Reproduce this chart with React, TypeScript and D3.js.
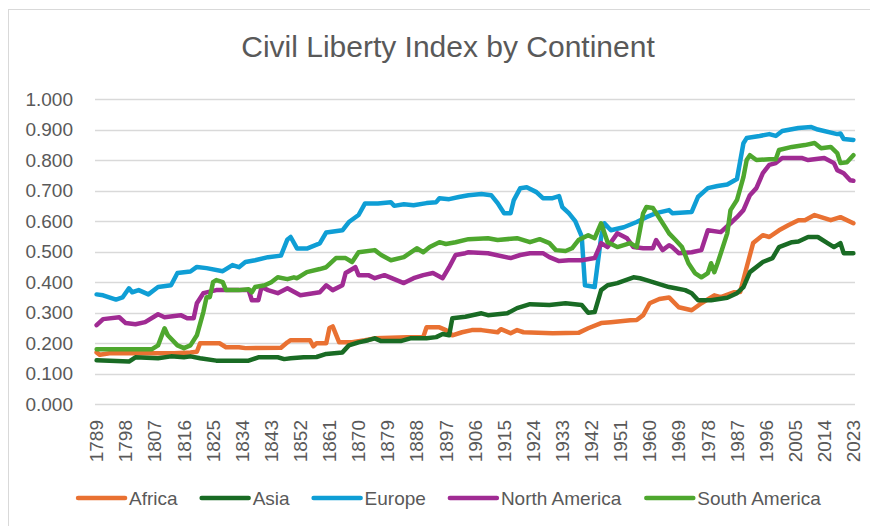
import React, { useMemo } from "react";
import * as d3 from "d3";

// values, [year, index]
const africa: [number, number][] = [
  [1789, 0.17], [1790, 0.162], [1793, 0.167], [1802, 0.167], [1813, 0.167], [1818, 0.17], [1820, 0.172],
  [1821, 0.2], [1827, 0.2], [1829, 0.187], [1833, 0.187], [1835, 0.184], [1846, 0.185], [1848, 0.203],
  [1849, 0.21], [1855, 0.21], [1856, 0.19], [1857, 0.2], [1860, 0.2], [1861, 0.25], [1862, 0.255],
  [1864, 0.203], [1868, 0.203], [1872, 0.21], [1875, 0.216], [1885, 0.22], [1890, 0.22], [1891, 0.252],
  [1895, 0.252], [1897, 0.243], [1899, 0.226], [1902, 0.236], [1905, 0.243], [1908, 0.243], [1913, 0.236],
  [1914, 0.246], [1917, 0.233], [1919, 0.243], [1921, 0.236], [1930, 0.233], [1938, 0.234], [1941, 0.249],
  [1945, 0.266], [1948, 0.269], [1954, 0.275], [1956, 0.276], [1958, 0.292], [1960, 0.331], [1963, 0.345],
  [1966, 0.35], [1969, 0.318], [1973, 0.308], [1976, 0.331], [1980, 0.357], [1982, 0.351], [1986, 0.367],
  [1988, 0.368], [1990, 0.449], [1992, 0.528], [1995, 0.554], [1997, 0.548], [2000, 0.57], [2003, 0.587],
  [2006, 0.603], [2008, 0.603], [2011, 0.62], [2013, 0.613], [2016, 0.603], [2019, 0.613], [2023, 0.593],
];

const asia: [number, number][] = [
  [1789, 0.144], [1799, 0.14], [1801, 0.154], [1808, 0.151], [1812, 0.157], [1816, 0.154], [1818, 0.157],
  [1821, 0.151], [1826, 0.143], [1836, 0.143], [1839, 0.154], [1845, 0.154], [1847, 0.148], [1849, 0.151],
  [1853, 0.154], [1857, 0.155], [1860, 0.165], [1865, 0.17], [1867, 0.193], [1870, 0.203], [1873, 0.21],
  [1875, 0.216], [1877, 0.207], [1883, 0.207], [1886, 0.216], [1891, 0.216], [1894, 0.22], [1896, 0.23],
  [1898, 0.226], [1899, 0.282], [1903, 0.287], [1908, 0.298], [1910, 0.292], [1916, 0.298], [1919, 0.315],
  [1923, 0.328], [1929, 0.325], [1934, 0.331], [1939, 0.325], [1941, 0.3], [1943, 0.302], [1945, 0.374],
  [1947, 0.39], [1950, 0.397], [1955, 0.416], [1957, 0.413], [1959, 0.407], [1962, 0.397], [1966, 0.384],
  [1968, 0.38], [1971, 0.374], [1973, 0.364], [1975, 0.341], [1979, 0.341], [1984, 0.349], [1987, 0.364],
  [1989, 0.384], [1991, 0.433], [1995, 0.466], [1998, 0.479], [2000, 0.515], [2004, 0.531], [2006, 0.533],
  [2009, 0.548], [2012, 0.548], [2015, 0.528], [2017, 0.515], [2019, 0.528], [2020, 0.495], [2023, 0.495],
];

const europe: [number, number][] = [
  [1789, 0.36], [1791, 0.357], [1795, 0.343], [1797, 0.35], [1799, 0.38], [1800, 0.367], [1802, 0.374],
  [1805, 0.36], [1808, 0.384], [1812, 0.39], [1814, 0.43], [1818, 0.435], [1820, 0.45], [1823, 0.446],
  [1828, 0.436], [1831, 0.456], [1833, 0.449], [1835, 0.466], [1838, 0.472], [1842, 0.482], [1846, 0.487],
  [1848, 0.54], [1849, 0.548], [1851, 0.51], [1854, 0.51], [1858, 0.527], [1860, 0.563], [1865, 0.57],
  [1867, 0.597], [1870, 0.62], [1872, 0.658], [1876, 0.658], [1880, 0.662], [1881, 0.65], [1884, 0.655],
  [1887, 0.652], [1891, 0.659], [1894, 0.662], [1895, 0.675], [1898, 0.672], [1901, 0.679], [1904, 0.685],
  [1908, 0.689], [1911, 0.685], [1913, 0.659], [1915, 0.626], [1917, 0.626], [1918, 0.669], [1920, 0.708],
  [1922, 0.711], [1925, 0.695], [1927, 0.675], [1930, 0.675], [1932, 0.682], [1933, 0.646], [1935, 0.626],
  [1937, 0.6], [1939, 0.55], [1940, 0.39], [1943, 0.384], [1945, 0.548], [1946, 0.593], [1948, 0.57],
  [1952, 0.58], [1956, 0.597], [1959, 0.613], [1962, 0.626], [1966, 0.636], [1967, 0.626], [1973, 0.63],
  [1975, 0.68], [1978, 0.708], [1981, 0.715], [1984, 0.72], [1987, 0.738], [1989, 0.855], [1990, 0.872],
  [1994, 0.879], [1997, 0.885], [1999, 0.879], [2001, 0.895], [2006, 0.905], [2010, 0.908], [2012, 0.9],
  [2018, 0.885], [2019, 0.887], [2020, 0.869], [2023, 0.866],
];

const northAmerica: [number, number][] = [
  [1789, 0.259], [1791, 0.279], [1796, 0.285], [1798, 0.266], [1801, 0.262], [1804, 0.269], [1808, 0.295],
  [1810, 0.285], [1815, 0.292], [1817, 0.282], [1819, 0.282], [1820, 0.331], [1822, 0.364], [1826, 0.374],
  [1836, 0.374], [1837, 0.341], [1839, 0.341], [1840, 0.384], [1842, 0.374], [1845, 0.364], [1848, 0.38],
  [1852, 0.357], [1858, 0.367], [1860, 0.39], [1862, 0.374], [1865, 0.39], [1866, 0.43], [1869, 0.449],
  [1870, 0.423], [1873, 0.423], [1875, 0.413], [1878, 0.423], [1884, 0.397], [1887, 0.413], [1890, 0.423],
  [1893, 0.43], [1896, 0.413], [1898, 0.449], [1900, 0.489], [1903, 0.495], [1904, 0.498], [1910, 0.495],
  [1917, 0.479], [1920, 0.489], [1923, 0.495], [1927, 0.495], [1929, 0.482], [1932, 0.469], [1935, 0.472],
  [1939, 0.472], [1943, 0.479], [1945, 0.528], [1947, 0.515], [1950, 0.56], [1953, 0.544], [1955, 0.515],
  [1958, 0.511], [1961, 0.511], [1962, 0.538], [1964, 0.505], [1966, 0.521], [1967, 0.515], [1969, 0.495],
  [1973, 0.498], [1976, 0.505], [1978, 0.57], [1982, 0.564], [1985, 0.593], [1987, 0.613], [1989, 0.636],
  [1991, 0.685], [1993, 0.708], [1995, 0.757], [1997, 0.784], [1999, 0.79], [2001, 0.807], [2007, 0.807],
  [2009, 0.8], [2014, 0.807], [2017, 0.79], [2018, 0.767], [2020, 0.757], [2022, 0.734], [2023, 0.732],
];

const southAmerica: [number, number][] = [
  [1789, 0.18], [1806, 0.18], [1808, 0.193], [1810, 0.249], [1811, 0.226], [1814, 0.193], [1816, 0.184],
  [1818, 0.193], [1820, 0.226], [1822, 0.302], [1823, 0.351], [1824, 0.351], [1825, 0.4], [1826, 0.407],
  [1828, 0.4], [1829, 0.374], [1833, 0.374], [1836, 0.377], [1837, 0.367], [1838, 0.384], [1841, 0.39],
  [1843, 0.4], [1845, 0.416], [1848, 0.41], [1850, 0.416], [1851, 0.413], [1854, 0.433], [1858, 0.443],
  [1860, 0.449], [1863, 0.479], [1866, 0.479], [1868, 0.466], [1870, 0.498], [1875, 0.505], [1877, 0.489],
  [1880, 0.472], [1884, 0.482], [1888, 0.511], [1890, 0.498], [1892, 0.515], [1895, 0.531], [1897, 0.525],
  [1900, 0.531], [1904, 0.541], [1910, 0.544], [1913, 0.538], [1919, 0.544], [1923, 0.531], [1926, 0.541],
  [1929, 0.528], [1931, 0.505], [1934, 0.502], [1936, 0.511], [1938, 0.538], [1941, 0.554], [1943, 0.544],
  [1945, 0.593], [1947, 0.531], [1950, 0.515], [1954, 0.528], [1956, 0.515], [1958, 0.626], [1959, 0.646],
  [1961, 0.643], [1963, 0.61], [1965, 0.577], [1966, 0.56], [1968, 0.538], [1970, 0.515], [1972, 0.462],
  [1974, 0.43], [1976, 0.416], [1978, 0.43], [1979, 0.462], [1980, 0.433], [1981, 0.462], [1984, 0.56],
  [1985, 0.636], [1987, 0.669], [1989, 0.744], [1990, 0.8], [1991, 0.816], [1993, 0.8], [1997, 0.803],
  [1999, 0.803], [2000, 0.833], [2004, 0.843], [2008, 0.849], [2011, 0.856], [2013, 0.839], [2016, 0.843],
  [2018, 0.823], [2019, 0.79], [2021, 0.793], [2023, 0.816],
];

const seriesNames = ["Africa", "Asia", "Europe", "North America", "South America"];
const seriesColors = ["#E97132", "#196B24", "#0F9ED5", "#A02B93", "#4EA72E"];
const seriesData = [africa, asia, europe, northAmerica, southAmerica];

const xTickYears = [
  1789, 1798, 1807, 1816, 1825, 1834, 1843, 1852, 1861, 1870, 1879, 1888, 1897, 1906,
  1915, 1924, 1933, 1942, 1951, 1960, 1969, 1978, 1987, 1996, 2005, 2014, 2023,
];
const yTicks = [0, 0.1, 0.2, 0.3, 0.4, 0.5, 0.6, 0.7, 0.8, 0.9, 1.0];

const width = 870;
const height = 526;
const plot = { left: 95, right: 855, top: 99, bottom: 404.3 };
const textColor = "#595959";
const font = "Liberation Sans, Arial, sans-serif";

const measure = (txt: string, size: number) => {
  const ctx = document.createElement("canvas").getContext("2d");
  if (!ctx) return txt.length * size * 0.5;
  ctx.font = `${size}px "Liberation Sans"`;
  return ctx.measureText(txt).width;
};

const App = () => {
  // category axis: each year gets one slot, points sit in the middle of it
  const x = useMemo(
    () => d3.scaleLinear().domain([1788.5, 2023.5]).range([plot.left, plot.right]),
    []
  );
  const y = useMemo(
    () => d3.scaleLinear().domain([0, 1]).range([plot.bottom, plot.top]),
    []
  );

  const line = d3
    .line<[number, number]>()
    .x((d) => x(d[0]))
    .y((d) => y(d[1]));

  // legend layout
  const legendSize = 19;
  const swatch = 49;
  const items = seriesNames.map((name) => ({ name, w: swatch + 4 + measure(name, legendSize) }));
  const gap = 22;
  const total = d3.sum(items, (d) => d.w) + gap * (items.length - 1);
  let cursor = 449 - total / 2;
  const legendPos = items.map((d) => {
    const p = cursor;
    cursor += d.w + gap;
    return p;
  });

  return (
    <svg
      width={width}
      height={height}
      style={{ position: "absolute", left: 0, top: 0, background: "#fff", fontFamily: font }}
    >
      <rect x={8.5} y={9.5} width={width + 10} height={height + 10} fill="#fff" stroke="#d9d9d9" />

      <text x={448} y={57} textAnchor="middle" fontSize={30} fill={textColor}>
        Civil Liberty Index by Continent
      </text>

      {/* Y gridlines + labels */}
      {yTicks.map((t) => (
        <g key={t}>
          <line
            x1={plot.left}
            x2={plot.right}
            y1={Math.round(y(t)) + 0.5}
            y2={Math.round(y(t)) + 0.5}
            stroke="#d9d9d9"
            strokeWidth={1.3}
          />
          <text x={73} y={y(t)} dy="0.35em" textAnchor="end" fontSize={19} fill={textColor}>
            {d3.format(".3f")(t)}
          </text>
        </g>
      ))}

      {/* X labels */}
      {xTickYears.map((yr) => (
        <text
          key={yr}
          transform={`translate(${x(yr)}, 420) rotate(-90)`}
          dy="0.35em"
          textAnchor="end"
          fontSize={19}
          fill={textColor}
        >
          {yr}
        </text>
      ))}

      {/* Series */}
      {seriesData.map((s, i) => (
        <path
          key={seriesNames[i]}
          d={line(s) || ""}
          fill="none"
          stroke={seriesColors[i]}
          strokeWidth={4.5}
          strokeLinejoin="round"
          strokeLinecap="round"
        />
      ))}

      {/* Legend */}
      {seriesNames.map((name, i) => (
        <g key={name} transform={`translate(${legendPos[i]}, 498)`}>
          <line x1={2} x2={swatch} stroke={seriesColors[i]} strokeWidth={4.5} strokeLinecap="round" />
          <text x={swatch + 4} dy="0.35em" fontSize={legendSize} fill={textColor}>
            {name}
          </text>
        </g>
      ))}
    </svg>
  );
};

export default App;
